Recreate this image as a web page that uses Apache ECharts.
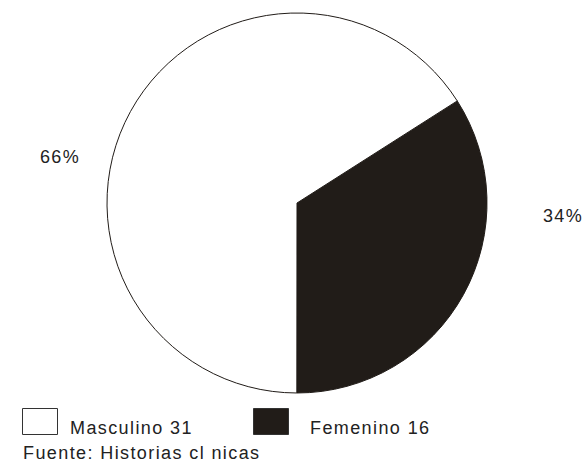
<!DOCTYPE html>
<html>
<head>
<meta charset="utf-8">
<script src="https://cdn.jsdelivr.net/npm/echarts@6/dist/echarts.min.js"></script>
<style>
html,body{margin:0;padding:0;background:#fff}
#c{width:584px;height:466px}
#c text{letter-spacing:1.4px}
</style>
</head>
<body>
<div id="c"></div>
<script>
var categories = ["Femenino", "Masculino"];
var values = [16, 31];
var percentLabels = ["34%", "66%"];
var colors = ["#211c18", "#ffffff"];
var sourceText = "Fuente: Historias cl nicas";

var chart = echarts.init(document.getElementById('c'), null, { renderer: 'svg' });
var labelPos = [[563, 216], [60, 157]];
var fontFam = '"Liberation Sans", Arial';
var fontCss = '18px ' + fontFam;
var legendSpec = [
  { idx: 1, boxX: 22, textX: 70 },
  { idx: 0, boxX: 253, textX: 310 }
];
var graphics = [];
legendSpec.forEach(function (s) {
  graphics.push({
    type: 'rect', left: s.boxX, top: 408,
    shape: { width: 35, height: 26 },
    style: { fill: colors[s.idx], stroke: '#333', lineWidth: 1 }
  });
  graphics.push({
    type: 'text', left: s.textX, top: 419,
    style: { text: categories[s.idx] + ' ' + values[s.idx], font: fontCss, fill: '#222' }
  });
});
graphics.push({
  type: 'text', left: 23, top: 444,
  style: { text: sourceText, font: fontCss, fill: '#222' }
});
chart.setOption({
  animation: false,
  backgroundColor: '#fff',
  graphic: graphics,
  series: [{
    type: 'pie',
    center: [297, 203],
    radius: 190,
    startAngle: 32.5,
    clockwise: true,
    data: categories.map(function (c, i) {
      return { name: c, value: values[i], itemStyle: { color: colors[i], borderColor: '#211c18', borderWidth: 1 } };
    }),
    label: {
      show: true,
      formatter: function (p) { return percentLabels[p.dataIndex]; },
      fontFamily: fontFam, fontSize: 18, color: '#222'
    },
    labelLine: { show: false },
    labelLayout: function (p) {
      return { x: labelPos[p.dataIndex][0], y: labelPos[p.dataIndex][1], align: 'center', verticalAlign: 'middle' };
    },
    emphasis: { disabled: true }
  }]
});
</script>
</body>
</html>
